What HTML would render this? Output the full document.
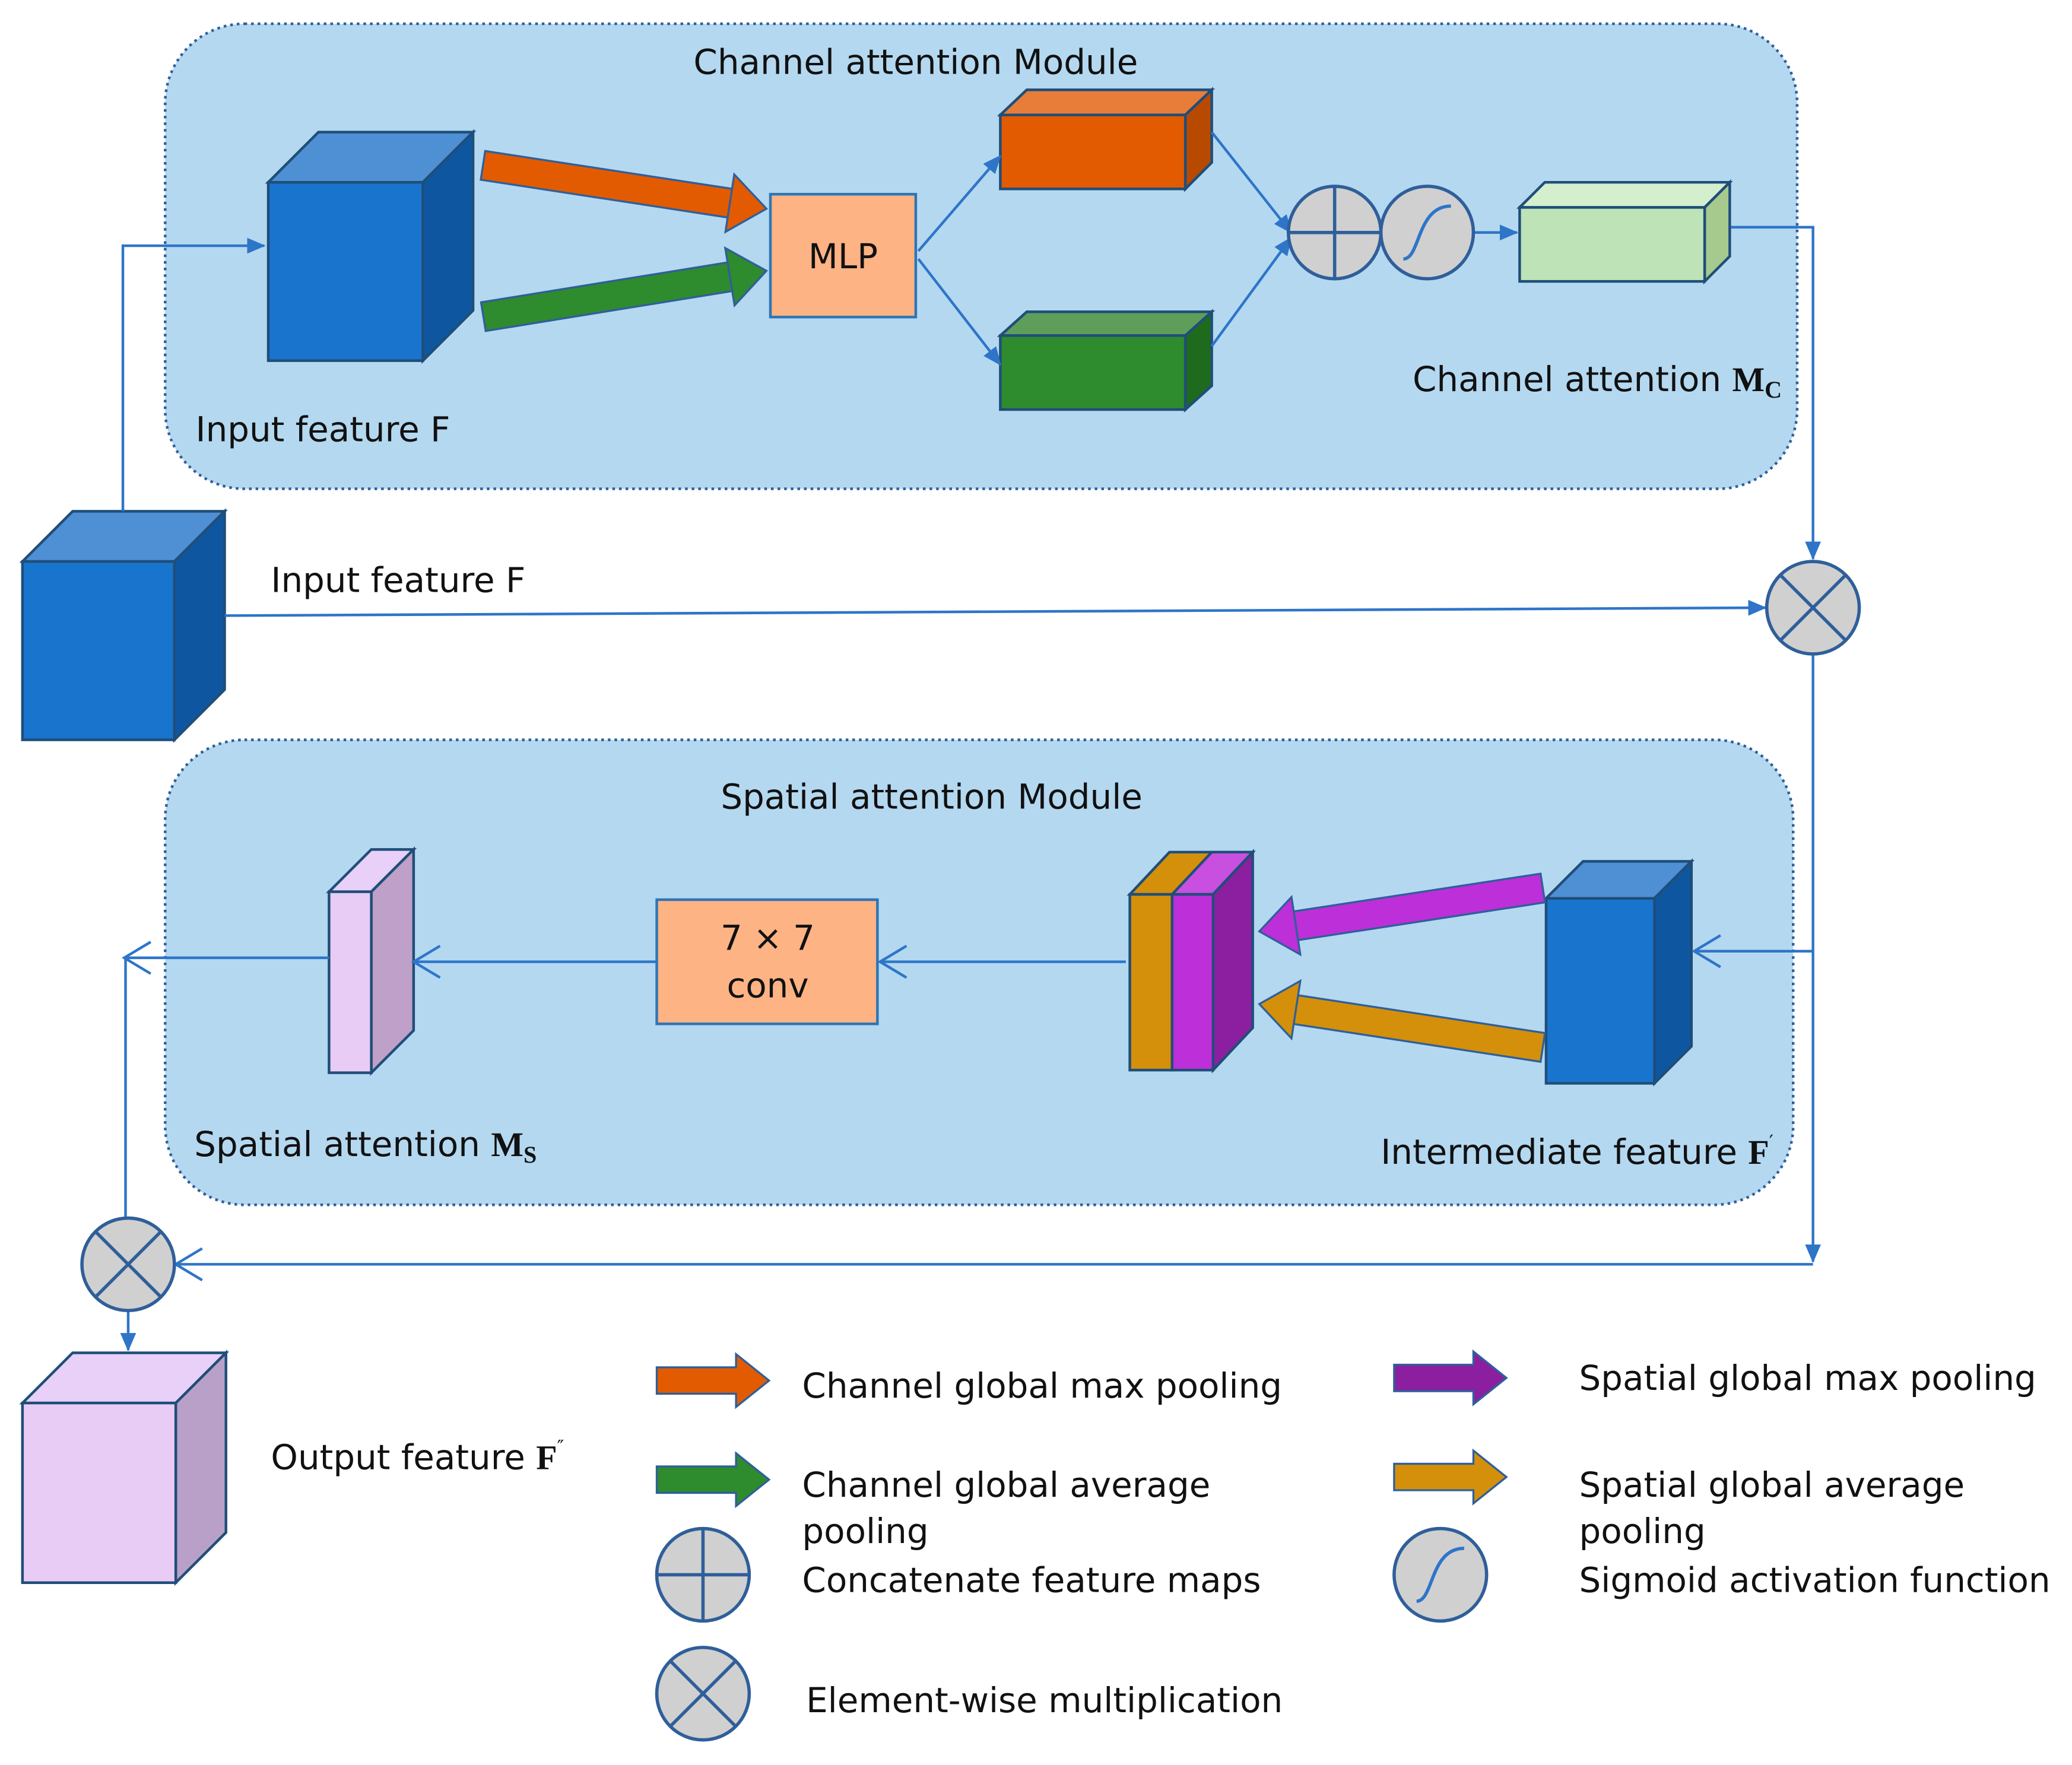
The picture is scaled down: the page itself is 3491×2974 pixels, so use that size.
<!DOCTYPE html>
<html><head><meta charset="utf-8"><style>
html,body{margin:0;padding:0;background:#fff}
svg{display:block}
text{font-family:"DejaVu Sans","Liberation Sans",sans-serif;font-size:26px;fill:#111}
</style></head><body>
<svg width="3491" height="2974" viewBox="0 0 1568 1336" preserveAspectRatio="none" xmlns="http://www.w3.org/2000/svg">
<defs>
<marker id="ah" markerWidth="14" markerHeight="12" refX="13" refY="6" orient="auto" markerUnits="userSpaceOnUse"><path d="M0,0 L14,6 L0,12 z" fill="#2e75c8"/></marker>
<marker id="ch" markerWidth="24" markerHeight="28" refX="22" refY="14" orient="auto" markerUnits="userSpaceOnUse"><path d="M2,2 L22,14 L2,26" fill="none" stroke="#2e75c8" stroke-width="2"/></marker>
<g id="barr"><polygon points="0,-11 -190,-11 -190,11 0,11" transform="translate(-27,0)"/><polygon points="-28,-22 0,0 -28,22"/></g>
</defs>
<rect width="1568" height="1336" fill="#fff"/>
<rect x="125" y="18" width="1235" height="352" rx="60" fill="#b4d8f0" stroke="#2f5f9a" stroke-width="2" stroke-dasharray="2,3"/>
<rect x="125" y="560" width="1232" height="352" rx="60" fill="#b4d8f0" stroke="#2f5f9a" stroke-width="2" stroke-dasharray="2,3"/>
<text x="693" y="56" text-anchor="middle">Channel attention Module</text>
<text x="705" y="612" text-anchor="middle">Spatial attention Module</text>

<g stroke="#1f4e79" stroke-width="2">
<polygon points="203,138 241,100 358,100 320,138" fill="#4f8fd4"/>
<polygon points="320,138 358,100 358,235 320,273" fill="#0e57a0"/>
<rect x="203" y="138" width="117" height="135" fill="#1874cd"/>
<polygon points="757,87 777,68 917,68 897,87" fill="#e87d3a"/>
<polygon points="897,87 917,68 917,123 897,143" fill="#b84a00"/>
<rect x="757" y="87" width="140" height="56" fill="#e35b00"/>
<polygon points="757,254 777,236 917,236 897,254" fill="#5f9e5a"/>
<polygon points="897,254 917,236 917,292 897,310" fill="#1e6b1e"/>
<rect x="757" y="254" width="140" height="56" fill="#2e8b2e"/>
<polygon points="1150,157 1169,138 1309,138 1290,157" fill="#d4efcd"/>
<polygon points="1290,157 1309,138 1309,194 1290,213" fill="#a6c98e"/>
<rect x="1150" y="157" width="140" height="56" fill="#bde3b7"/>
<polygon points="17,425 55,387 170,387 132,425" fill="#4f8fd4"/>
<polygon points="132,425 170,387 170,522 132,560" fill="#0e57a0"/>
<rect x="17" y="425" width="115" height="135" fill="#1874cd"/>
<polygon points="1170,680 1198,652 1280,652 1252,680" fill="#4f8fd4"/>
<polygon points="1252,680 1280,652 1280,792 1252,820" fill="#0e57a0"/>
<rect x="1170" y="680" width="82" height="140" fill="#1874cd"/>
<polygon points="855,677 885,645 948,645 918,677" fill="#d4900a"/>
<polygon points="887,677 917,645 948,645 918,677" fill="#c94fe0"/>
<polygon points="918,677 948,645 948,778 918,810" fill="#8b1fa0"/>
<rect x="855" y="677" width="32" height="133" fill="#d4900a"/>
<rect x="887" y="677" width="31" height="133" fill="#bd2fd8"/>
<polygon points="249,675 281,643 313,643 281,675" fill="#e8d0f8"/>
<polygon points="281,675 313,643 313,780 281,812" fill="#bfa0c8"/>
<rect x="249" y="675" width="32" height="137" fill="#e8ccf5"/>
<polygon points="17,1062 55,1024 171,1024 133,1062" fill="#e8d0f8"/>
<polygon points="133,1062 171,1024 171,1160 133,1198" fill="#b9a0c8"/>
<rect x="17" y="1062" width="116" height="136" fill="#e8ccf5"/>
</g>

<rect x="583" y="147" width="110" height="93" fill="#fdb384" stroke="#2e75b6" stroke-width="2"/>
<text x="638" y="203" text-anchor="middle">MLP</text>
<rect x="497" y="681" width="167" height="94" fill="#fdb384" stroke="#2e75b6" stroke-width="2"/>
<text x="581" y="719" text-anchor="middle">7 × 7</text>
<text x="581" y="755" text-anchor="middle">conv</text>

<g stroke="#2f5f9a" stroke-width="1.5">
<use href="#barr" transform="translate(580,158) rotate(8.7)" fill="#e35b00"/>
<use href="#barr" transform="translate(580,205) rotate(-9.2)" fill="#2e8b2e"/>
<use href="#barr" transform="translate(953,705) rotate(171.3)" fill="#bd2fd8"/>
<use href="#barr" transform="translate(953,760) rotate(-171.3)" fill="#d4900a"/>
</g>

<g stroke="#2e75c8" stroke-width="2" fill="none">
<polyline points="93,387 93,186 200,186" marker-end="url(#ah)"/>
<line x1="695" y1="190" x2="757" y2="118" marker-end="url(#ah)"/>
<line x1="695" y1="196" x2="757" y2="276" marker-end="url(#ah)"/>
<line x1="917" y1="100" x2="977" y2="176" marker-end="url(#ah)"/>
<line x1="917" y1="262" x2="977" y2="180" marker-end="url(#ah)"/>
<line x1="1116" y1="176" x2="1148" y2="176" marker-end="url(#ah)"/>
<polyline points="1310,172 1372,172 1372,423" marker-end="url(#ah)"/>
<line x1="170" y1="466" x2="1336" y2="460" marker-end="url(#ah)"/>
<polyline points="1372,495 1372,955" marker-end="url(#ah)"/>
<line x1="1372" y1="720" x2="1282" y2="720" marker-end="url(#ch)"/>
<line x1="852" y1="728" x2="666" y2="728" marker-end="url(#ch)"/>
<line x1="497" y1="728" x2="313" y2="728" marker-end="url(#ch)"/>
<line x1="249" y1="725" x2="94" y2="725" marker-end="url(#ch)"/>
<line x1="95" y1="725" x2="95" y2="922"/>
<line x1="1372" y1="957" x2="133" y2="957" marker-end="url(#ch)"/>
<line x1="97" y1="992" x2="97" y2="1022" marker-end="url(#ah)"/>
</g>

<g stroke="#2f5f9a" stroke-width="2.5" fill="#d0d0d0">
<circle cx="1010" cy="176" r="35"/><path d="M975,176 H1045 M1010,141 V211" fill="none"/>
<circle cx="1080" cy="176" r="35"/><path d="M1062,196 C1075,196 1072,156 1098,156" fill="none" stroke="#2e75c8"/>
<circle cx="1372" cy="460" r="35"/><path d="M1347,435 L1397,485 M1397,435 L1347,485" fill="none"/>
<circle cx="97" cy="957" r="35"/><path d="M72,932 L122,982 M122,932 L72,982" fill="none"/>
<circle cx="532" cy="1192" r="35"/><path d="M497,1192 H567 M532,1157 V1227" fill="none"/>
<circle cx="532" cy="1282" r="35"/><path d="M507,1257 L557,1307 M557,1257 L507,1307" fill="none"/>
<circle cx="1090" cy="1192" r="35"/><path d="M1072,1212 C1085,1212 1082,1172 1108,1172" fill="none" stroke="#2e75c8"/>
</g>

<g stroke="#2f5f9a" stroke-width="1.5">
<polygon points="497,1035 557,1035 557,1025 582,1045 557,1065 557,1055 497,1055" fill="#e35b00"/>
<polygon points="497,1110 557,1110 557,1100 582,1120 557,1140 557,1130 497,1130" fill="#2e8b2e"/>
<polygon points="1055,1033 1115,1033 1115,1023 1140,1043 1115,1063 1115,1053 1055,1053" fill="#8b1fa0"/>
<polygon points="1055,1108 1115,1108 1115,1098 1140,1118 1115,1138 1115,1128 1055,1128" fill="#d4900a"/>
</g>

<text x="148" y="334">Input feature F</text>
<text x="1069" y="296">Channel attention <tspan font-family="Liberation Serif" font-weight="bold">M</tspan><tspan font-family="Liberation Serif" font-weight="bold" font-size="18" dy="5">C</tspan></text>
<text x="205" y="448">Input feature F</text>
<text x="147" y="875">Spatial attention <tspan font-family="Liberation Serif" font-weight="bold">M</tspan><tspan font-family="Liberation Serif" font-weight="bold" font-size="18" dy="5">S</tspan></text>
<text x="1342" y="881" text-anchor="end">Intermediate feature <tspan font-family="Liberation Serif" font-weight="bold">F</tspan><tspan font-size="14" dy="-12">′</tspan></text>
<text x="205" y="1112">Output feature <tspan font-family="Liberation Serif" font-weight="bold">F</tspan><tspan font-size="14" dy="-12">″</tspan></text>
<text x="607" y="1058">Channel global max pooling</text>
<text x="607" y="1133">Channel global average</text>
<text x="607" y="1168">pooling</text>
<text x="607" y="1205">Concatenate  feature maps</text>
<text x="610" y="1296">Element-wise multiplication</text>
<text x="1195" y="1052">Spatial global max pooling</text>
<text x="1195" y="1133">Spatial global average</text>
<text x="1195" y="1168">pooling</text>
<text x="1195" y="1205">Sigmoid activation function</text>
</svg>
</body></html>
